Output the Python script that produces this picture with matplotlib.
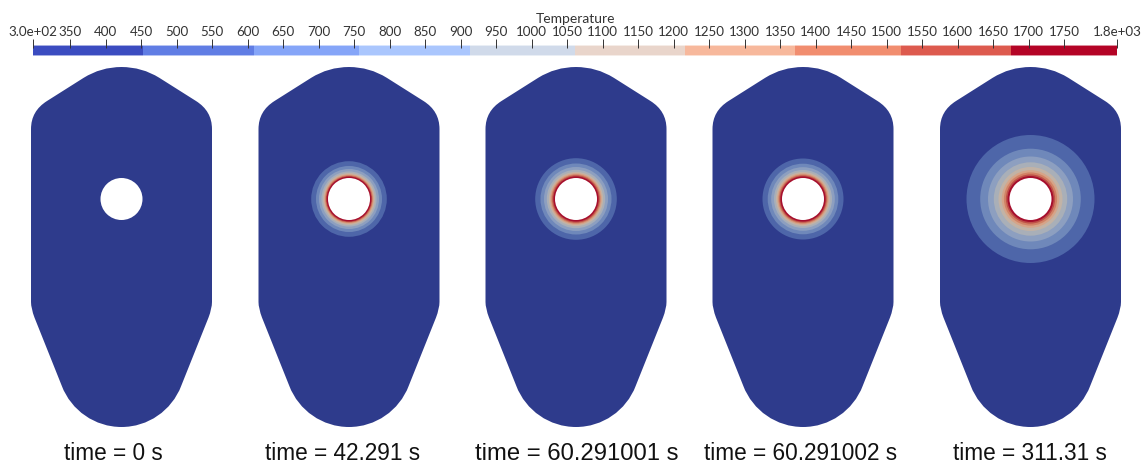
import matplotlib
matplotlib.use("Agg")
import matplotlib.pyplot as plt
from matplotlib.patches import Circle, PathPatch
from matplotlib.path import Path

W, H = 1145, 464

# colour bar
bar_edges = [298, 453, 608.5, 757.5, 912.7, 1060.8, 1216.5, 1371, 1520, 1675.6, 1825]
bar_colors = ["#3b4cc0", "#607de4", "#85a5f8", "#aac6fd", "#d0daea",
              "#e9d5cb", "#f7b89c", "#f18d6f", "#dd5a4e", "#b40426"]
tick_values = [298] + list(range(350, 1800, 50)) + [1825]
tick_labels = ["3.0e+02"] + [str(v) for v in range(350, 1800, 50)] + ["1.8e+03"]
bar_title = "Temperature"

# panels
panel_labels = ["time = 0 s", "time = 42.291 s", "time = 60.291001 s",
                "time = 60.291002 s", "time = 311.31 s"]
label_centers = [113.5, 343, 576.5, 800.5, 1029.5]
label_sizes = [16.3, 16.3, 17.2, 16.3, 16.3]
panel_centers = [121.5, 349, 576, 803, 1030.5]
mesh_base = "#2e3b8c"
mesh_colors = ["#4e66a9", "#6f88ba", "#8d9fc0", "#a9afb8", "#c2b3a6",
               "#d6a488", "#d28265", "#bf5048", "#a60f2d"]
# outer radius of each contour band, px, outermost first
band_radii = [
    [],
    [37.8, 33.0, 30.0, 27.6, 26.0, 24.8, 23.9, 23.1, 22.4],
    [40.8, 35.5, 32.0, 29.2, 27.2, 25.8, 24.7, 23.7, 22.6],
    [40.5, 35.3, 31.8, 29.0, 27.1, 25.7, 24.6, 23.6, 22.6],
    [64.0, 50.3, 42.5, 36.7, 32.0, 28.8, 26.6, 24.6, 23.0],
]
hole_radius = 21
hole_y = 200

# left half of the outline, (dx from centre, y from top), split in segments
outline_start = (0, 68)
outline_segments = [
    (Path.CURVE3, [(-20.6, 68), (-37.8, 78.8)]),
    (Path.LINETO, [(-74.5, 102)]),
    (Path.CURVE3, [(-90.5, 112), (-90.5, 130)]),
    (Path.LINETO, [(-90.5, 303)]),
    (Path.CURVE3, [(-90.5, 309.5), (-87, 318.6)]),
    (Path.LINETO, [(-59.7, 386.9)]),
    (Path.CURVE4, [(-50.2, 411.6), (-26.5, 428), (0, 428)]),
]


def outline_path(cx):
    verts = [outline_start]
    codes = [Path.MOVETO]
    for code, pts in outline_segments:
        verts += pts
        codes += [code] * len(pts)
    # mirror, walking the segments backwards from the bottom to the top
    cur = [outline_start]
    for code, pts in outline_segments:
        cur.append(pts[-1])
    for idx in range(len(outline_segments) - 1, -1, -1):
        code, pts = outline_segments[idx]
        back = list(reversed(pts[:-1])) + [cur[idx]]
        verts += [(-x, y) for x, y in back]
        codes += [code] * len(back)
    return Path([(cx + x, y) for x, y in verts], codes)


plt.rcParams["font.family"] = ["Liberation Sans", "DejaVu Sans"]
fig = plt.figure(figsize=(W / 100, H / 100), dpi=100, facecolor="white")

ax = fig.add_axes([0, 0, 1, 1])
ax.set_xlim(0, W)
ax.set_ylim(H, 0)
ax.axis("off")

for cx, radii, label, lx, fs in zip(panel_centers, band_radii, panel_labels,
                                    label_centers, label_sizes):
    ax.add_patch(PathPatch(outline_path(cx), fc=mesh_base, ec="none"))
    for r, c in zip(radii, mesh_colors):
        ax.add_patch(Circle((cx, hole_y), r, fc=c, ec="none"))
    ax.add_patch(Circle((cx, hole_y), hole_radius, fc="white", ec="none"))
    ax.text(lx, 454, label, ha="center", va="center", fontsize=fs, color="#111111")

# colour bar axes: pixel box 33..1117 x 40..57
cax = fig.add_axes([33.3 / W, 1 - 57 / H, (1117.3 - 33.3) / W, 17 / H])
cax.set_xlim(tick_values[0], tick_values[-1])
cax.set_ylim(0, 17)
cax.patch.set_alpha(0)
for s in cax.spines.values():
    s.set_visible(False)
for lo, hi, c in zip(bar_edges[:-1], bar_edges[1:], bar_colors):
    cax.barh(5.5, hi - lo, left=lo, height=11, color=c, alpha=0.45, edgecolor="none")
    cax.barh(5.5, hi - lo, left=lo, height=9, color=c, edgecolor="none")
cax.xaxis.tick_top()
cax.set_xticks(tick_values)
cax.set_xticklabels(tick_labels, fontsize=9.6, family="Lato", color="#333333")
cax.set_yticks([])
cax.tick_params(axis="x", direction="in", length=6.6, width=0.7, color="#333333", pad=1.5)
cax.set_title(bar_title, fontsize=10, family="Lato", color="#333333", pad=12)

fig.savefig("out.png", dpi=100)
